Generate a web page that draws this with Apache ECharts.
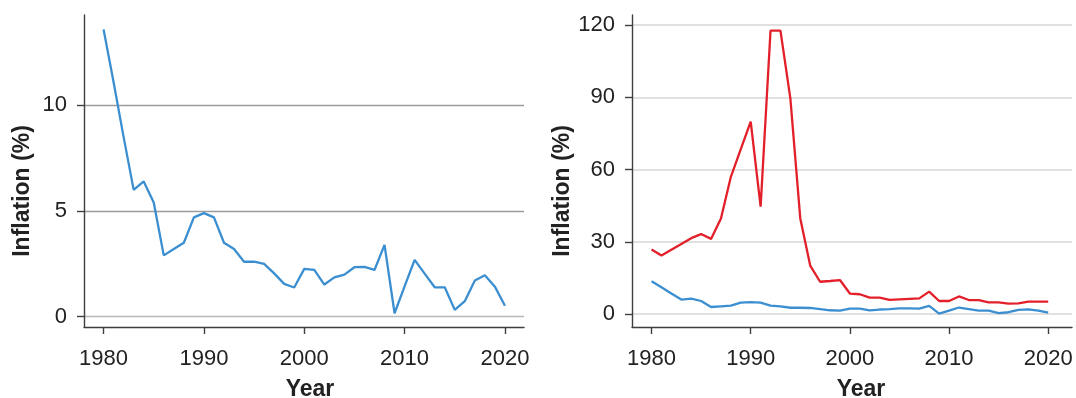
<!DOCTYPE html>
<html>
<head>
<meta charset="utf-8">
<script src="https://cdn.jsdelivr.net/npm/echarts@6/dist/echarts.min.js"></script>
<style>
html,body{margin:0;padding:0;background:#fff;}
#chart{width:1076px;height:398px;}
</style>
</head>
<body>
<div id="chart"></div>
<script>
const years = [1980,1981,1982,1983,1984,1985,1986,1987,1988,1989,1990,1991,1992,1993,1994,1995,1996,1997,1998,1999,2000,2001,2002,2003,2004,2005,2006,2007,2008,2009,2010,2011,2012,2013,2014,2015,2016,2017,2018,2019,2020];
const blueInflation = [13.6,11.1,8.5,6.0,6.4,5.4,2.9,3.2,3.5,4.7,4.9,4.7,3.5,3.2,2.6,2.6,2.5,2.05,1.55,1.38,2.26,2.21,1.52,1.86,1.99,2.34,2.36,2.21,3.4,0.16,1.43,2.69,2.04,1.39,1.39,0.32,0.73,1.71,1.96,1.42,0.52];
const redInflation = [26.8,24.3,26.7,29.1,31.5,33.2,31.2,39.7,57.0,68.5,79.9,44.6,117.7,117.7,89.6,39.7,20.1,13.4,13.7,14.1,8.5,8.2,6.8,6.8,5.9,6.1,6.3,6.5,9.3,5.4,5.4,7.3,5.8,5.8,4.8,4.8,4.3,4.4,5.1,5.1,5.1];
const xTicks = [1980,1990,2000,2010,2020];
const leftYTicks = [0,5,10];
const rightYTicks = [0,30,60,90,120];
const xTitle = 'Year';
const yTitle = 'Inflation (%)';

const FONT = '"Liberation Sans", Arial, Helvetica, sans-serif';
const BLUE = '#3b8fd1';
const RED = '#e3202a';
const AXIS = '#3f3f3f';

function pairs(vals){ return years.map((y,i)=>[y, vals[i]]); }

function xAxisDef(gridIndex, min, max, padLeft){
  return {
    type:'value', gridIndex, min, max,
    name: xTitle, nameLocation:'middle', nameGap:51,
    nameTextStyle:{fontFamily:FONT,fontSize:23,fontWeight:'bold',color:'#222',padding:[0,0,0,padLeft]},
    axisLine:{show:true,onZero:false,lineStyle:{color:AXIS,width:1.4}},
    axisTick:{show:true,length:7,customValues:xTicks,lineStyle:{color:AXIS,width:1.4}},
    axisLabel:{customValues:xTicks,margin:21,fontFamily:FONT,fontSize:22,color:'#222',formatter:v=>String(v)},
    splitLine:{show:false}
  };
}
function yAxisDef(gridIndex, min, max, ticks, gridColors, gridWidth){
  return {
    type:'value', gridIndex, min, max,
    name: yTitle, nameLocation:'middle', nameGap:50,
    nameTextStyle:{fontFamily:FONT,fontSize:23,fontWeight:'bold',color:'#222',padding:[0,40,0,0]},
    axisLine:{show:true,onZero:false,lineStyle:{color:AXIS,width:1.4}},
    axisTick:{show:true,length:7,customValues:ticks,lineStyle:{color:AXIS,width:1.4}},
    axisLabel:{customValues:ticks,margin:17,fontFamily:FONT,fontSize:22,color:'#222',formatter:v=>String(v)},
    splitLine:{show:true,lineStyle:{color:gridColors,width:gridWidth}}
  };
}

const chart = echarts.init(document.getElementById('chart'), null, {renderer:'canvas'});
chart.setOption({
  animation:false,
  backgroundColor:'#fff',
  grid:[
    {left:84, top:15, width:440, height:312, containLabel:false, outerBoundsMode:'none'},
    {left:632, top:15, width:440, height:312, containLabel:false, outerBoundsMode:'none'}
  ],
  xAxis:[ xAxisDef(0, 1978.05, 2021.9, 12), xAxisDef(1, 1978.03, 2022.4, 18) ],
  yAxis:[
    yAxisDef(0, -0.49, 14.28, leftYTicks, ['#b9b9b9','#9c9c9c','#9c9c9c'], 1.4),
    yAxisDef(1, -5.4, 124.2, rightYTicks, ['#d6d6d6'], 1.5)
  ],
  series:[
    {type:'line', xAxisIndex:0, yAxisIndex:0, data:pairs(blueInflation), showSymbol:false, lineStyle:{color:BLUE,width:2.3}, itemStyle:{color:BLUE}},
    {type:'line', xAxisIndex:1, yAxisIndex:1, data:pairs(redInflation), showSymbol:false, lineStyle:{color:RED,width:2.3}, itemStyle:{color:RED}},
    {type:'line', xAxisIndex:1, yAxisIndex:1, data:pairs(blueInflation), showSymbol:false, lineStyle:{color:BLUE,width:2.3}, itemStyle:{color:BLUE}}
  ]
});
</script>
</body>
</html>
